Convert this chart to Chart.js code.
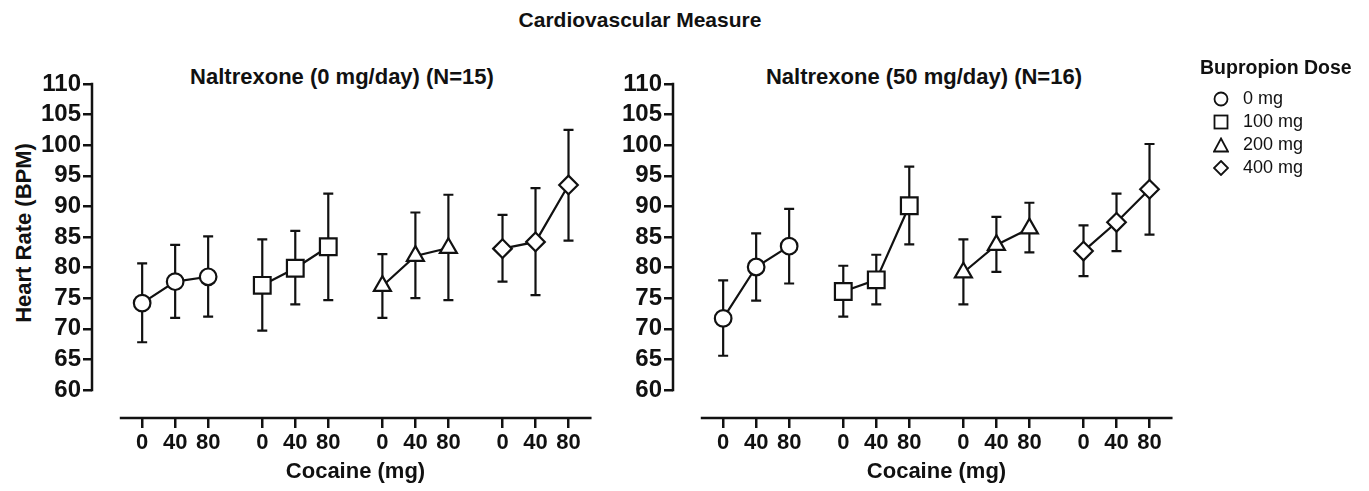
<!DOCTYPE html>
<html><head><meta charset="utf-8">
<script src="https://cdn.jsdelivr.net/npm/chart.js@4.4.1/dist/chart.umd.min.js"></script>
<style>
html,body{margin:0;padding:0;background:#fff;}
body{width:1369px;height:491px;position:relative;overflow:hidden;font-family:"Liberation Sans",Arial,sans-serif;color:#111;}
canvas{position:absolute;top:0;}
.t{position:absolute;font-weight:bold;white-space:nowrap;text-align:center;}
#legend{position:absolute;left:1200px;top:55px;}
#legend .lt{font-weight:bold;font-size:19.5px;line-height:24px;margin-bottom:8px;}
#legend .row{display:flex;align-items:center;height:23px;font-size:18px;}
#legend svg{margin-left:13px;margin-right:14px;}
</style></head><body>
<div class="t" style="left:440px;width:400px;top:7px;font-size:21px;line-height:26px;">Cardiovascular Measure</div>
<div class="t" style="left:142px;width:400px;top:64px;font-size:22px;line-height:26px;">Naltrexone (0 mg/day) (N=15)</div>
<div class="t" style="left:724px;width:400px;top:64px;font-size:22px;line-height:26px;">Naltrexone (50 mg/day) (N=16)</div>
<div class="t" style="left:24px;top:233px;font-size:22px;line-height:26px;transform:translate(-50%,-50%) rotate(-90deg);">Heart Rate (BPM)</div>
<canvas id="c0" width="640" height="491" style="left:0px;"></canvas>
<canvas id="c1" width="640" height="491" style="left:581px;"></canvas>
<div id="legend"></div>
<script>
// ---- data ----
const cocaineLabels = ['0', '40', '80'];
const bupropionLabels = ['0 mg', '100 mg', '200 mg', '400 mg'];
const yTickValues = [60, 65, 70, 75, 80, 85, 90, 95, 100, 105, 110];

// Naltrexone 0 mg/day: rows = bupropion dose, cols = cocaine dose
const nal0Mean  = [[74.2, 77.7, 78.5], [77.1, 79.9, 83.4], [77.0, 81.9, 83.2], [83.1, 84.2, 93.5]];
const nal0Upper = [[80.7, 83.7, 85.1], [84.6, 86.0, 92.1], [82.2, 89.0, 91.9], [88.6, 93.0, 102.5]];
const nal0Lower = [[67.8, 71.8, 72.0], [69.7, 74.0, 74.7], [71.8, 75.0, 74.7], [77.7, 75.5, 84.4]];

// Naltrexone 50 mg/day
const nal50Mean  = [[71.7, 80.1, 83.5], [76.1, 78.0, 90.1], [79.2, 83.7, 86.4], [82.7, 87.4, 92.8]];
const nal50Upper = [[77.9, 85.6, 89.6], [80.3, 82.1, 96.5], [84.6, 88.3, 90.6], [86.9, 92.1, 100.2]];
const nal50Lower = [[65.6, 74.6, 77.4], [72.0, 74.0, 83.8], [74.0, 79.3, 82.5], [78.6, 82.7, 85.4]];

// ---- styling / layout ----
const FONT = '"Liberation Sans", Arial, sans-serif';
const INK = '#111';
const markerStyles = ['circle', 'rect', 'triangle', 'rectRot'];
const markerRadii = [8.3, 11.8, 9.8, 9.3];
const groupGap = 3.64;
const xPos = (g, i) => g * groupGap + i;
const xTickPositions = [];
for (let g = 0; g < 4; g++) for (let i = 0; i < 3; i++) xTickPositions.push(xPos(g, i));
const X_MIN = -1.52, X_MAX = 14.45, XLINE_MIN = -0.64, XLINE_MAX = 13.58;
const Y_MIN = 60 - 28 / 6.12, Y_MAX = 110;

const axisPlugin = {
  id: 'gpAxes',
  beforeDatasetsDraw(chart) {
    const {ctx, chartArea, scales: {x, y}} = chart;
    ctx.save();
    ctx.strokeStyle = INK; ctx.lineWidth = 2.5; ctx.lineCap = 'square';
    ctx.beginPath();
    ctx.moveTo(chartArea.left, y.getPixelForValue(Y_MAX));
    ctx.lineTo(chartArea.left, y.getPixelForValue(60));
    ctx.moveTo(x.getPixelForValue(XLINE_MIN), chartArea.bottom);
    ctx.lineTo(x.getPixelForValue(XLINE_MAX), chartArea.bottom);
    ctx.stroke();
    ctx.restore();
  }
};

function errorPlugin(uppers, lowers) {
  return {
    id: 'errBars',
    beforeDatasetsDraw(chart) {
      const {ctx, scales: {x, y}} = chart;
      ctx.save();
      ctx.strokeStyle = INK; ctx.lineWidth = 2.2;
      chart.data.datasets.forEach((ds, g) => {
        ds.data.forEach((p, i) => {
          const px = x.getPixelForValue(p.x);
          const yt = y.getPixelForValue(uppers[g][i]);
          const yb = y.getPixelForValue(lowers[g][i]);
          ctx.beginPath();
          ctx.moveTo(px, yt); ctx.lineTo(px, yb);
          ctx.moveTo(px - 5, yt); ctx.lineTo(px + 5, yt);
          ctx.moveTo(px - 5, yb); ctx.lineTo(px + 5, yb);
          ctx.stroke();
        });
      });
      ctx.restore();
    }
  };
}

function makeChart(id, means, uppers, lowers) {
  const datasets = means.map((row, g) => ({
    label: bupropionLabels[g],
    data: row.map((v, i) => ({x: xPos(g, i), y: v})),
    borderColor: INK,
    borderWidth: 2.2,
    backgroundColor: '#fff',
    pointStyle: markerStyles[g],
    pointRadius: markerRadii[g],
    pointBorderWidth: 2.2,
    pointBorderColor: INK,
    pointBackgroundColor: '#fff',
    showLine: true,
    tension: 0,
    clip: false
  }));
  return new Chart(document.getElementById(id), {
    type: 'line',
    data: {datasets},
    options: {
      responsive: false,
      animation: false,
      devicePixelRatio: 1,
      layout: {padding: {top: 84, right: 21, bottom: 0, left: 0}},
      plugins: {legend: {display: false}, tooltip: {enabled: false}, title: {display: false}},
      scales: {
        x: {
          type: 'linear', min: X_MIN, max: X_MAX,
          border: {display: false},
          grid: {display: true, drawOnChartArea: false, drawTicks: true, tickLength: 10, color: INK, lineWidth: 2.5},
          afterBuildTicks: s => { s.ticks = xTickPositions.map(v => ({value: v})); },
          afterFit: s => { s.height = 73; },
          ticks: {
            autoSkip: false, maxRotation: 0, padding: 2, color: INK,
            font: {family: FONT, size: 22, weight: 'bold'},
            callback: (v, idx) => cocaineLabels[idx % 3]
          },
          title: {display: true, text: 'Cocaine (mg)', color: INK, padding: {top: 0, bottom: 6},
                  font: {family: FONT, size: 22, weight: 'bold'}}
        },
        y: {
          type: 'linear', min: Y_MIN, max: Y_MAX,
          border: {display: false},
          grid: {display: true, drawOnChartArea: false, drawTicks: true, tickLength: 9, color: INK, lineWidth: 2.5},
          afterBuildTicks: s => { s.ticks = yTickValues.map(v => ({value: v})); },
          afterFit: s => { s.width = 92; },
          ticks: {padding: 2, color: INK, font: {family: FONT, size: 24, weight: 'bold'}}
        }
      }
    },
    plugins: [axisPlugin, errorPlugin(uppers, lowers)]
  });
}

makeChart('c0', nal0Mean, nal0Upper, nal0Lower);
makeChart('c1', nal50Mean, nal50Upper, nal50Lower);

// ---- legend ----
const shapes = [
  '<circle cx="8" cy="8" r="6.5" fill="#fff" stroke="#111" stroke-width="1.8"/>',
  '<rect x="1.5" y="1.5" width="13" height="13" fill="#fff" stroke="#111" stroke-width="1.8"/>',
  '<polygon points="8,1.5 15,14.5 1,14.5" fill="#fff" stroke="#111" stroke-width="1.8"/>',
  '<polygon points="8,1 15,8 8,15 1,8" fill="#fff" stroke="#111" stroke-width="1.8"/>'
];
const leg = document.getElementById('legend');
let html = '<div class="lt">Bupropion Dose</div>';
bupropionLabels.forEach((lab, i) => {
  html += '<div class="row"><svg width="16" height="16" viewBox="0 0 16 16">' + shapes[i] + '</svg><span>' + lab + '</span></div>';
});
leg.innerHTML = html;
</script>
</body></html>
